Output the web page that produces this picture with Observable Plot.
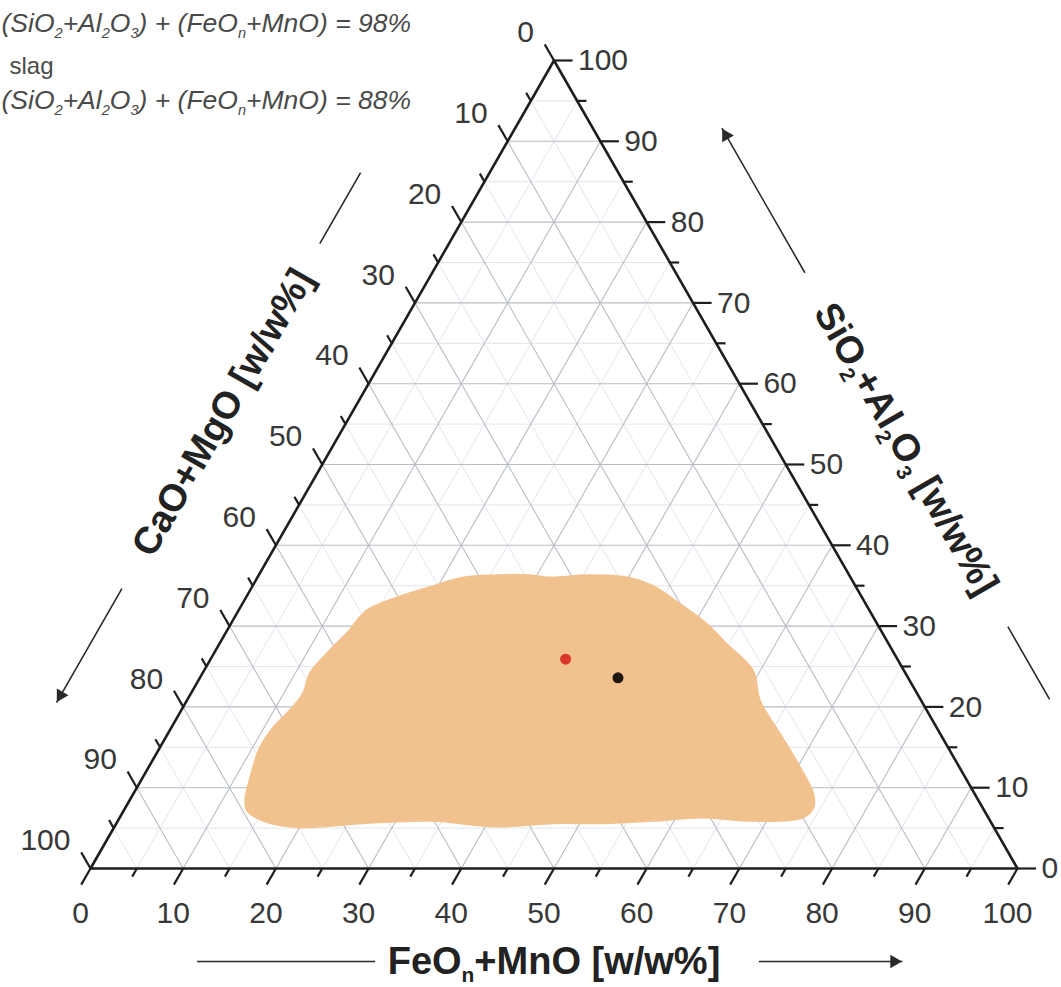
<!DOCTYPE html>
<html>
<head>
<meta charset="utf-8">
<script src="https://cdn.jsdelivr.net/npm/d3@7"></script>
<script src="https://cdn.jsdelivr.net/npm/@observablehq/plot@0.6"></script>
<style>
html,body{margin:0;padding:0;background:#fff;}
#chart svg{display:block;}
</style>
</head>
<body>
<div id="chart"></div>
<script>
// ---------- data ----------
const majorVals = [0, 10, 20, 30, 40, 50, 60, 70, 80, 90, 100];
const minorVals = [5, 15, 25, 35, 45, 55, 65, 75, 85, 95];
const tickLabels = ["0", "10", "20", "30", "40", "50", "60", "70", "80", "90", "100"];

// slag field outline (FeOn+MnO, SiO2+Al2O3 in w/w%)
const blobFeO  = [12.5, 11.6, 10.8, 11.0, 11.6, 12.1, 11.6, 12.2, 13.2, 13.8, 16.2, 19.2, 22.1, 25.7, 29.2, 31.8, 35.4, 40.1, 43.1, 47.1, 51.3, 54.7, 59.2, 61.8, 66.0, 70.3, 73.3, 74.2, 73.7, 68.5, 62.9, 57.7, 52.5, 47.2, 41.3, 33.7, 26.6, 19.8, 15.7, 13.3];
const blobSiO2 = [8.4, 11.3, 15.0, 17.5, 19.2, 21.7, 24.1, 26.6, 29.5, 31.9, 33.5, 34.8, 36.0, 36.3, 36.3, 36.0, 36.3, 36.0, 35.0, 32.8, 30.3, 27.8, 24.5, 20.8, 16.7, 12.5, 9.3, 7.6, 6.3, 5.9, 6.3, 5.9, 5.6, 5.6, 5.2, 5.9, 5.6, 5.1, 5.9, 7.2];

// sample points
const pointFeO = [38.3, 45.1];
const pointSiO2 = [25.9, 23.6];
const pointColor = ["#d9372a", "#1e150d"];

// axis titles and arrows (positions along each axis, in w/w%)
const titleAxis = ["bottom", "left", "right"];
const titleText = ["FeO_n+MnO [w/w%]", "CaO+MgO [w/w%]", "SiO_2+Al_2O_3 [w/w%]"];
const titleAt = [50, 50.5, 45];
const arrowAxis = ["left", "left", "right", "right", "bottom", "bottom"];
const arrowFrom = [20.8, 72.3, 66.8, 23.0, 11.5, 72.1];
const arrowTo   = [29.6, 86.4, 84.7, 14.0, 30.7, 87.6];
const arrowHead = [false, true, true, false, false, true];

const legendLines = ["(SiO_2+Al_2O_3) + (FeO_n+MnO) = 98%", "slag", "(SiO_2+Al_2O_3) + (FeO_n+MnO) = 88%"];

// ---------- helpers ----------
const X = (feo, sio2) => feo + sio2 / 2;   // ternary -> cartesian
function edge(axis, v) {
  if (axis === "left") return [X(0, 100 - v), 100 - v];     // CaO+MgO = v
  if (axis === "right") return [X(100 - v, v), v];          // SiO2+Al2O3 = v
  return [v, 0];                                            // FeOn+MnO = v
}
const OFF = {left: [-97, -56], right: [97, -56], bottom: [0, 93]};
const ROT = {left: -60, right: 60, bottom: 0};
const HEADROT = {left: 210, right: 330, bottom: 90};

const gridVals = minorVals.concat(majorVals.slice(1, -1)).sort((a, b) => a - b);
const gridSegs = [];
for (const v of gridVals) {
  const major = v % 10 === 0;
  gridSegs.push({major, x1: X(0, v), y1: v, x2: X(100 - v, v), y2: v});
  gridSegs.push({major, x1: X(v, 0), y1: 0, x2: X(v, 100 - v), y2: 100 - v});
  gridSegs.push({major, x1: X(100 - v, 0), y1: 0, x2: X(0, 100 - v), y2: 100 - v});
}

const tickVals = majorVals.concat(minorVals);
const tickSegs = [];
for (const v of tickVals) {
  const L = v % 10 === 0 ? 2 : 1;
  tickSegs.push({x1: v, y1: 0, x2: v - L / 2, y2: -L});
  tickSegs.push({x1: X(0, 100 - v), y1: 100 - v, x2: X(0, 100 - v) - L / 2, y2: 100 - v + L});
  tickSegs.push({x1: X(100 - v, v), y1: v, x2: X(100 - v, v) + L, y2: v});
}

const triangle = [[0, 0], [100, 0], [50, 100]];
const blob = blobFeO.map((f, i) => ({x: X(f, blobSiO2[i]), y: blobSiO2[i]}));
const points = pointFeO.map((f, i) => ({x: X(f, pointSiO2[i]), y: pointSiO2[i], c: pointColor[i]}));

const FONT = "Liberation Sans, Arial, Helvetica, sans-serif";
const labelIdx = majorVals.map((_, i) => i);

const marks = [
  Plot.link(gridSegs.filter(d => !d.major), {x1: "x1", y1: "y1", x2: "x2", y2: "y2", stroke: "#e3e5ea", strokeWidth: 1}),
  Plot.link(gridSegs.filter(d => d.major), {x1: "x1", y1: "y1", x2: "x2", y2: "y2", stroke: "#b8bcc5", strokeWidth: 1.1}),
  Plot.line(blob, {x: "x", y: "y", curve: "catmull-rom-closed", fill: "#f2c28e", stroke: "#f2c28e", strokeWidth: 2}),
  Plot.line(triangle, {x: d => d[0], y: d => d[1], curve: "linear-closed", stroke: "#1e1e1e", strokeWidth: 2.6}),
  Plot.link(tickSegs, {x1: "x1", y1: "y1", x2: "x2", y2: "y2", stroke: "#1e1e1e", strokeWidth: 2.2}),
  Plot.dot(points, {x: "x", y: "y", r: 5.5, fill: "c", stroke: null}),
  Plot.text(labelIdx, {x: i => majorVals[i], y: () => 0, text: i => tickLabels[i], dx: -10, dy: 45, fontSize: 30, fontFamily: FONT, fill: "#383838"}),
  Plot.text(labelIdx, {x: i => edge("left", majorVals[i])[0], y: i => edge("left", majorVals[i])[1], text: i => tickLabels[i], textAnchor: "end", dx: -20, dy: -28, fontSize: 30, fontFamily: FONT, fill: "#383838"}),
  Plot.text(labelIdx, {x: i => edge("right", majorVals[i])[0], y: i => edge("right", majorVals[i])[1], text: i => tickLabels[i], textAnchor: "start", dx: 24, dy: 0, fontSize: 30, fontFamily: FONT, fill: "#383838"})
];

for (const ax of ["left", "right", "bottom"]) {
  const idx = arrowAxis.map((a, i) => i).filter(i => arrowAxis[i] === ax);
  const [dx, dy] = OFF[ax];
  marks.push(Plot.link(idx, {
    x1: i => edge(ax, arrowFrom[i])[0], y1: i => edge(ax, arrowFrom[i])[1],
    x2: i => edge(ax, arrowTo[i])[0], y2: i => edge(ax, arrowTo[i])[1],
    dx, dy, stroke: "#2a2a2a", strokeWidth: 1.6
  }));
  const heads = idx.filter(i => arrowHead[i]);
  marks.push(Plot.dot(heads, {
    x: i => edge(ax, arrowTo[i] - Math.sign(arrowTo[i] - arrowFrom[i]) * 0.9)[0],
    y: i => edge(ax, arrowTo[i] - Math.sign(arrowTo[i] - arrowFrom[i]) * 0.9)[1],
    symbol: "triangle", r: 5, rotate: HEADROT[ax], fill: "#2a2a2a", stroke: null, dx, dy
  }));
  const t = titleAxis.indexOf(ax);
  marks.push(Plot.text([t], {
    x: i => edge(ax, titleAt[i])[0], y: i => edge(ax, titleAt[i])[1], text: i => titleText[i],
    dx, dy, rotate: ROT[ax], fontSize: 38, fontWeight: "bold", fontFamily: FONT, fill: "#222"
  }));
}

marks.push(Plot.text([0], {frameAnchor: "top-left", text: () => legendLines[0], textAnchor: "start", dx: 1, dy: 13, fontSize: 26.5, fontStyle: "italic", fontFamily: FONT, fill: "#4a4a4a"}));
marks.push(Plot.text([1], {frameAnchor: "top-left", text: () => legendLines[1], textAnchor: "start", dx: 9, dy: 56, fontSize: 24, fontFamily: FONT, fill: "#4a4a4a"}));
marks.push(Plot.text([2], {frameAnchor: "top-left", text: () => legendLines[2], textAnchor: "start", dx: 1, dy: 90, fontSize: 26.5, fontStyle: "italic", fontFamily: FONT, fill: "#4a4a4a"}));

const chart = Plot.plot({
  width: 1061,
  height: 987,
  margin: 0,
  style: {background: "#fff", fontFamily: FONT},
  x: {domain: [0, 100], range: [90, 1017], axis: null},
  y: {domain: [0, 100], range: [868, 60], axis: null},
  marks
});
document.getElementById("chart").appendChild(chart);

// subscripts: "_c" renders c as subscript
chart.querySelectorAll("text").forEach(el => {
  const s = el.textContent;
  if (!s.includes("_")) return;
  const fs = parseFloat(getComputedStyle(el).fontSize) || 20;
  const ns = "http://www.w3.org/2000/svg";
  const shift = 0.22 * fs;
  el.textContent = "";
  let buf = "", shifted = false;
  const flush = () => {
    if (!buf) return;
    const t = document.createElementNS(ns, "tspan");
    t.textContent = buf;
    if (shifted) { t.setAttribute("dy", (-shift).toFixed(1)); shifted = false; }
    el.appendChild(t);
    buf = "";
  };
  for (let i = 0; i < s.length; i++) {
    if (s[i] === "_" && i + 1 < s.length) {
      flush();
      const t = document.createElementNS(ns, "tspan");
      t.textContent = s[i + 1];
      t.setAttribute("font-size", (0.55 * fs).toFixed(1));
      t.setAttribute("dy", (shifted ? 0 : shift).toFixed(1));
      el.appendChild(t);
      shifted = true;
      i++;
    } else {
      buf += s[i];
    }
  }
  flush();
});
</script>
</body>
</html>
